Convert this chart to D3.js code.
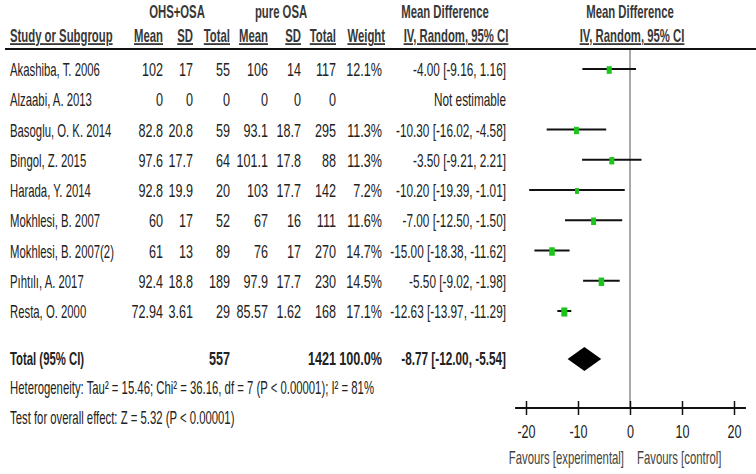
<!DOCTYPE html>
<html>
<head>
<meta charset="utf-8">
<script src="https://cdn.jsdelivr.net/npm/d3@7"></script>
<style>
  html, body { margin: 0; padding: 0; background: #fff; }
  svg { display: block; }
  text { font-family: "Liberation Sans", Arial, sans-serif; font-size: 18px; fill: #222; }
  .hd { font-weight: bold; fill: #383838; }
  .b { font-weight: bold; }
</style>
</head>
<body>
<svg id="chart" width="756" height="474"></svg>
<script>
// ---- data ----
const studies = ["Akashiba, T. 2006", "Alzaabi, A. 2013", "Basoglu, O. K. 2014", "Bingol, Z. 2015",
  "Harada, Y. 2014", "Mokhlesi, B. 2007", "Mokhlesi, B. 2007(2)", "Pıhtılı, A. 2017", "Resta, O. 2000"];
const ohsMean  = ["102", "0", "82.8", "97.6", "92.8", "60", "61", "92.4", "72.94"];
const ohsSD    = ["17", "0", "20.8", "17.7", "19.9", "17", "13", "18.8", "3.61"];
const ohsTotal = ["55", "0", "59", "64", "20", "52", "89", "189", "29"];
const pureMean = ["106", "0", "93.1", "101.1", "103", "67", "76", "97.9", "85.57"];
const pureSD   = ["14", "0", "18.7", "17.8", "17.7", "16", "17", "17.7", "1.62"];
const pureTotal= ["117", "0", "295", "88", "142", "111", "270", "230", "168"];
const weights  = [12.1, null, 11.3, 11.3, 7.2, 11.6, 14.7, 14.5, 17.1];
const md       = [-4.00, null, -10.30, -3.50, -10.20, -7.00, -15.00, -5.50, -12.63];
const ciLow    = [-9.16, null, -16.02, -9.21, -19.39, -12.50, -18.38, -9.02, -13.97];
const ciHigh   = [1.16, null, -4.58, 2.21, -1.01, -1.50, -11.62, -1.98, -11.29];
const total    = { ohs: "557", pure: "1421", weight: "100.0%", md: -8.77, lo: -12.00, hi: -5.54 };
const xTicks   = [-20, -10, 0, 10, 20];
const heterogeneity = "Heterogeneity: Tau² = 15.46; Chi² = 36.16, df = 7 (P < 0.00001); I² = 81%";
const overall = "Test for overall effect: Z = 5.32 (P < 0.00001)";
const favLeft = "Favours [experimental]", favRight = "Favours [control]";

// ---- layout ----
const SX = 0.63;   // condensed words
const SXN = 0.70;  // condensed numeric columns
const SXM = 0.655; // condensed CI column
const svg = d3.select("#chart");
const x = d3.scaleLinear().domain([-20, 20]).range([526, 734]);
const rowY = d3.scaleLinear().domain([0, 8]).range([70, 312]);
const totalY = 359;
const axisY = 408;
const colRight = { m1: 163, s1: 193, t1: 230, m2: 268, s2: 301, t2: 336, w: 382, ci: 506 };
const f2 = v => v.toFixed(2);

function txt(parent, tx, ty, str, anchor, cls, sx) {
  return parent.append("text")
    .attr("class", cls || null)
    .attr("transform", `translate(${tx},${ty}) scale(${sx || SX},1)`)
    .attr("text-anchor", anchor || "start")
    .text(str);
}

// header row 1
txt(svg, 177, 18, "OHS+OSA", "middle", "hd");
txt(svg, 281, 18, "pure OSA", "middle", "hd");
txt(svg, 445, 18, "Mean Difference", "middle", "hd");
txt(svg, 630, 18, "Mean Difference", "middle", "hd");

// header row 2
const hdr2 = [
  { t: "Study or Subgroup", x: 10, a: "start" },
  { t: "Mean", x: colRight.m1, a: "end" },
  { t: "SD", x: colRight.s1, a: "end" },
  { t: "Total", x: colRight.t1, a: "end" },
  { t: "Mean", x: colRight.m2, a: "end" },
  { t: "SD", x: colRight.s2, a: "end" },
  { t: "Total", x: colRight.t2, a: "end" },
  { t: "Weight", x: colRight.w + 3, a: "end" },
  { t: "IV, Random, 95% CI", x: 456, a: "middle" },
  { t: "IV, Random, 95% CI", x: 632, a: "middle" }
];
hdr2.forEach(h => txt(svg, h.x, 42, h.t, h.a, "hd").style("text-decoration", "underline"));

svg.append("line").attr("x1", 5).attr("x2", 756).attr("y1", 49).attr("y2", 49)
  .attr("stroke", "#111").attr("stroke-width", 2);

// zero line
svg.append("line").attr("x1", x(0)).attr("x2", x(0)).attr("y1", 50).attr("y2", axisY)
  .attr("stroke", "#555").attr("stroke-width", 1);

// study rows
const rows = studies.map((s, i) => ({ i, s, m1: ohsMean[i], s1: ohsSD[i], t1: ohsTotal[i], m2: pureMean[i],
  s2: pureSD[i], t2: pureTotal[i], w: weights[i], md: md[i], lo: ciLow[i], hi: ciHigh[i] }));

const g = svg.selectAll("g.row").data(rows).join("g").attr("class", "row")
  .attr("transform", d => `translate(0,${rowY(d.i)})`);
g.each(function (d) {
  const r = d3.select(this);
  txt(r, 10, 6, d.s, "start");
  ["m1", "s1", "t1", "m2", "s2", "t2"].forEach(k => txt(r, colRight[k], 6, d[k], "end", null, SXN));
  txt(r, colRight.w, 6, d.w == null ? "" : d.w.toFixed(1) + "%", "end", null, SXN);
  txt(r, colRight.ci, 6, d.md == null ? "Not estimable" : `${f2(d.md)} [${f2(d.lo)}, ${f2(d.hi)}]`, "end", null, SXM);
});

const est = g.filter(d => d.md != null);
est.append("line").attr("x1", d => x(d.lo)).attr("x2", d => x(d.hi)).attr("y1", -1).attr("y2", -1)
  .attr("stroke", "#111").attr("stroke-width", 2);
est.append("rect")
  .attr("width", d => 1.45 * Math.sqrt(d.w)).attr("height", d => 2.2 * Math.sqrt(d.w))
  .attr("x", d => x(d.md) - 0.725 * Math.sqrt(d.w)).attr("y", d => -1.1 * Math.sqrt(d.w))
  .attr("fill", "#1cc41c");

// total row
const tg = svg.append("g").attr("transform", `translate(0,${totalY})`);
txt(tg, 10, 6, "Total (95% CI)", "start", "b");
txt(tg, colRight.t1, 6, total.ohs, "end", "b", SXN);
txt(tg, colRight.t2, 6, total.pure, "end", "b", SXN);
txt(tg, colRight.w, 6, total.weight, "end", "b", SXN);
txt(tg, colRight.ci, 6, `${f2(total.md)} [${f2(total.lo)}, ${f2(total.hi)}]`, "end", "b", SXM);
tg.append("path").attr("fill", "#000")
  .attr("d", `M${x(total.lo)},0 L${x(total.md)},-12 L${x(total.hi)},0 L${x(total.md)},12 Z`);

// text lines
txt(svg, 10, 394, heterogeneity, "start");
txt(svg, 10, 424, overall, "start");

// axis
const axis = d3.axisBottom(x).tickValues(xTicks).tickSize(7).tickPadding(10).tickFormat(d => String(d));
const ag = svg.append("g").attr("transform", `translate(0,${axisY})`).call(axis);
ag.select(".domain").remove();
ag.selectAll(".tick line").attr("y1", -7).attr("y2", 7).attr("stroke", "#111").attr("stroke-width", 1.5);
ag.selectAll(".tick text").attr("transform", `scale(${SXN},1)`)
  .style("font-size", "18px").style("font-family", null).attr("fill", "#222");
ag.append("line").attr("x1", x(-22.1)).attr("x2", x(22.3)).attr("stroke", "#111").attr("stroke-width", 2);

txt(svg, x(0) - 6, 464, favLeft, "end").style("fill", "#444");
txt(svg, x(0) + 7, 464, favRight, "start").style("fill", "#444");
</script>
</body>
</html>
